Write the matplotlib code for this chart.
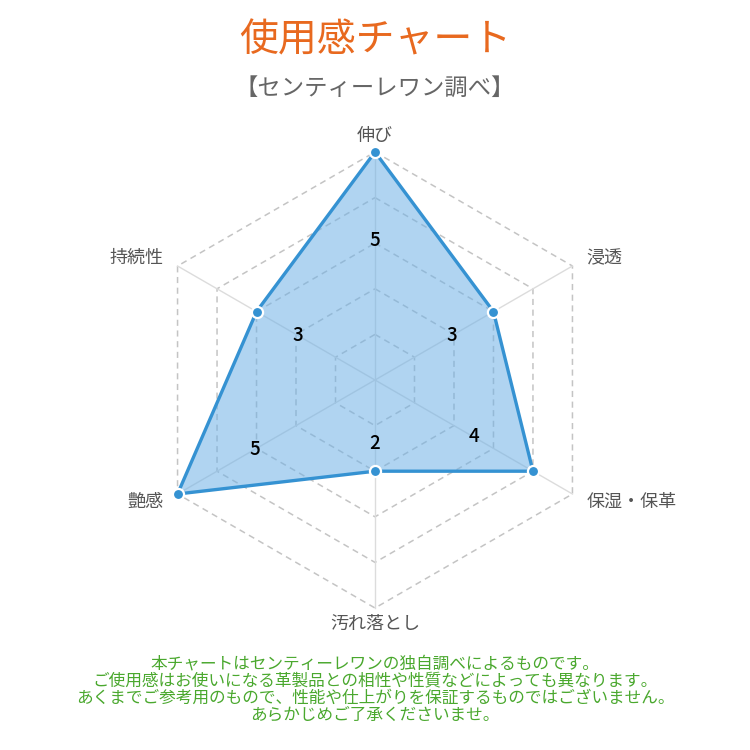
import numpy as np
import matplotlib
matplotlib.use("Agg")
from matplotlib import pyplot as plt

plt.rcParams['font.family'] = ['Noto Sans CJK JP', 'DejaVu Sans']

# data
categories = ["伸び", "浸透", "保湿・保革", "汚れ落とし", "艶感", "持続性"]
values = [5, 3, 4, 2, 5, 3]
max_value = 5
title = "使用感チャート"
subtitle = "【センティーレワン調べ】"
notes = ["本チャートはセンティーレワンの独自調べによるものです。",
         "ご使用感はお使いになる革製品との相性や性質などによっても異なります。",
         "あくまでご参考用のもので、性能や仕上がりを保証するものではございません。",
         "あらかじめご了承くださいませ。"]

W, H = 750, 750
cx, cy = 375, 380          # centre in pixels (from top)
unit = 45.6                # pixels per value step

fig = plt.figure(figsize=(7.5, 7.5), dpi=100)
ax = fig.add_axes([0, 0, 1, 1])
ax.set_xlim(-cx / unit, (W - cx) / unit)
ax.set_ylim(-(H - cy) / unit, cy / unit)
ax.axis("off")

n = len(categories)
ang = np.deg2rad(90 - 360.0 / n * np.arange(n))
ang_c = np.append(ang, ang[0])

# grid rings (dashed) and spokes
for r in range(1, max_value + 1):
    ax.plot(r * np.cos(ang_c), r * np.sin(ang_c), color="#c4c4c4",
            lw=1.1, ls=(0, (4, 3)), zorder=1)
for a in ang:
    ax.plot([0, max_value * np.cos(a)], [0, max_value * np.sin(a)],
            color="#dcdcdc", lw=1.0, zorder=1)

# data polygon
v = np.array(values + values[:1], dtype=float)
xs = v * np.cos(ang_c)
ys = v * np.sin(ang_c)
ax.fill(xs, ys, color="#6fb1e6", alpha=0.55, lw=0, zorder=2)
ax.plot(xs, ys, color="#3592d2", lw=2.4, zorder=3)
ax.plot(xs[:-1], ys[:-1], "o", color="#3592d2", markersize=8,
        markeredgecolor="white", markeredgewidth=1.6, zorder=4)

# value labels
for a, val in zip(ang, values):
    rl = 0.55 * val + 0.3
    ax.text(rl * np.cos(a), rl * np.sin(a), str(val), ha="center", va="center",
            fontsize=13.5, fontweight="medium", color="black", zorder=5)

# category labels
for a, lab in zip(ang, categories):
    rl = max_value + 0.35
    c = np.cos(a)
    if abs(c) < 0.1:
        ha = "center"
    elif c > 0:
        ha = "left"
    else:
        ha = "right"
    ax.text(rl * c, rl * np.sin(a), lab, ha=ha, va="center",
            fontsize=13, color="#555555")

fig.text(0.5, 1 - 40 / H, title, ha="center", va="center",
         fontsize=28, color="#e8691f")
fig.text(0.5, 1 - 88 / H, subtitle, ha="center", va="center",
         fontsize=16.8, color="#666666")

for i, line in enumerate(notes):
    fig.text(0.5, 1 - (664 + 17 * i) / H, line, ha="center", va="center",
             fontsize=12, color="#4aa82e")

fig.savefig("out.png", dpi=100, facecolor="white")
